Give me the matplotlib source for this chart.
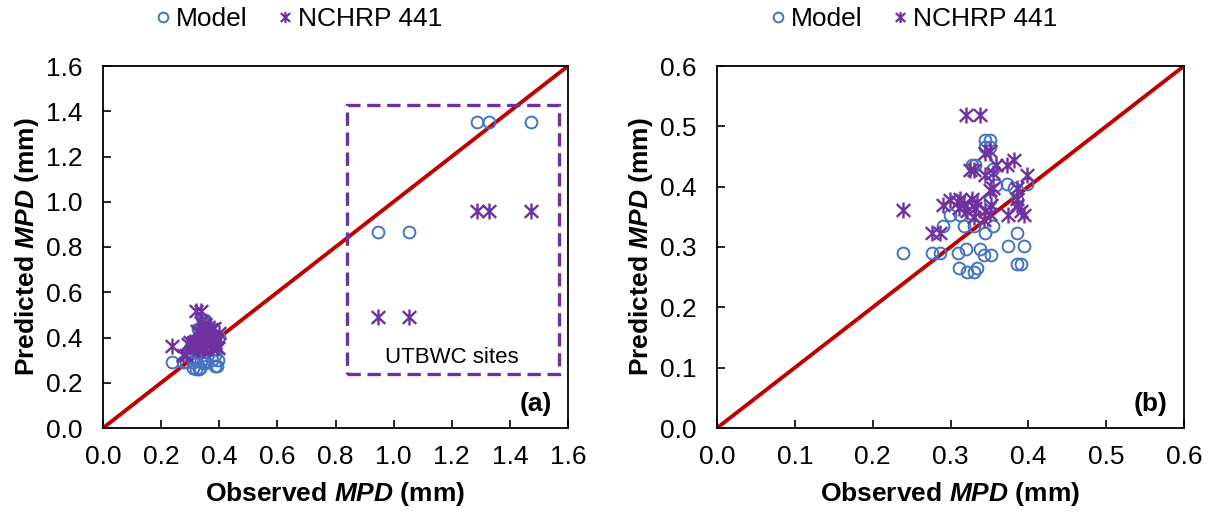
import matplotlib
matplotlib.use("Agg")
import matplotlib.pyplot as plt
import numpy as np
from matplotlib.path import Path
from matplotlib.patches import Rectangle
from matplotlib.lines import Line2D

plt.rcParams["font.family"] = ["Liberation Sans", "DejaVu Sans"]
plt.rcParams["mathtext.fontset"] = "custom"
plt.rcParams["mathtext.rm"] = "Liberation Sans:bold"
plt.rcParams["mathtext.it"] = "Liberation Sans:italic:bold"

# observed MPD (mm) and the two predictions, one entry per site
observed = [0.239, 0.276, 0.287, 0.291, 0.299, 0.309, 0.311, 0.312, 0.317, 0.320,
            0.321, 0.325, 0.327, 0.330, 0.330, 0.332, 0.334, 0.338, 0.343, 0.344,
            0.344, 0.344, 0.351, 0.351, 0.351, 0.352, 0.355, 0.355, 0.359, 0.372,
            0.374, 0.381, 0.385, 0.386, 0.386, 0.391, 0.395, 0.398,
            0.945, 1.054, 1.286, 1.328, 1.472]
model = [0.290, 0.290, 0.290, 0.334, 0.353, 0.290, 0.265, 0.353, 0.334, 0.296,
         0.259, 0.356, 0.436, 0.334, 0.259, 0.436, 0.266, 0.296, 0.287, 0.478,
         0.465, 0.323, 0.478, 0.465, 0.378, 0.287, 0.430, 0.334, 0.403, 0.404,
         0.302, 0.398, 0.272, 0.378, 0.323, 0.272, 0.302, 0.404,
         0.868, 0.868, 1.351, 1.351, 1.351]
nchrp = [0.362, 0.324, 0.324, 0.370, 0.378, 0.375, 0.365, 0.380, 0.372, 0.519,
         0.360, 0.428, 0.380, 0.428, 0.350, 0.365, 0.375, 0.519, 0.345, 0.455,
         0.419, 0.360, 0.459, 0.394, 0.355, 0.370, 0.422, 0.397, 0.436, 0.436,
         0.353, 0.444, 0.397, 0.370, 0.380, 0.360, 0.353, 0.419,
         0.489, 0.489, 0.960, 0.960, 0.960]

blue = "#4472C4"
purple = "#7030A0"
red = "#C00000"

# Excel-style star: an X with a vertical bar
star = Path([(-0.85, -0.8), (0.85, 0.8), (-0.85, 0.8), (0.85, -0.8), (0, -1.0), (0, 1.0)],
            [Path.MOVETO, Path.LINETO, Path.MOVETO, Path.LINETO, Path.MOVETO, Path.LINETO])

fig = plt.figure(figsize=(12.1, 5.13), dpi=100)
W, H = 1210, 513
panels = [
    (fig.add_axes([103 / W, 1 - 428 / H, 465 / W, 362 / H]), 1.6, 0.2, "(a)"),
    (fig.add_axes([717 / W, 1 - 428 / H, 467 / W, 362 / H]), 0.6, 0.1, "(b)"),
]

for ax, lim, step, tag in panels:
    ax.plot([0, lim], [0, lim], color=red, lw=2.8, zorder=1)
    ax.plot(observed, model, ls="none", marker="o", ms=8.5, mfc="none", mec=blue, mew=1.4,
            clip_on=True, zorder=2)
    ax.plot(observed, nchrp, ls="none", marker=star, ms=11.5, mec=purple, mew=1.7,
            clip_on=True, zorder=3)
    ticks = np.round(np.arange(0, lim + step / 2, step), 1)
    ax.set_xlim(0, lim)
    ax.set_ylim(0, lim)
    ax.set_xticks(ticks)
    ax.set_yticks(ticks)
    ax.set_xticklabels([f"{t:.1f}" for t in ticks])
    ax.set_yticklabels([f"{t:.1f}" for t in ticks])
    ax.tick_params(direction="in", length=6, width=1.2, labelsize=19, colors="black",
                   top=False, right=False)
    ax.tick_params(axis="x", pad=12)
    ax.tick_params(axis="y", pad=15)
    for sp in ax.spines.values():
        sp.set_linewidth(1.3)
    ax.set_xlabel(r"Observed $\it{MPD}$ (mm)", fontsize=19, fontweight="bold", labelpad=8)
    ax.set_ylabel(r"Predicted $\it{MPD}$ (mm)", fontsize=19, fontweight="bold", labelpad=3)
    ax.text(0.965, 0.065, tag, transform=ax.transAxes, ha="right", va="center",
            fontsize=19, fontweight="bold")

    handles = [
        Line2D([], [], ls="none", marker="o", ms=7, mfc="none", mec=blue, mew=1.4, label="Model"),
        Line2D([], [], ls="none", marker=star, ms=8, mec=purple, mew=1.6, label="NCHRP 441"),
    ]
    bb = ax.get_position()
    fig.legend(handles=handles, loc="center", ncol=2, frameon=False, fontsize=19,
               bbox_to_anchor=(bb.x0 + bb.width / 2 - 37 / W, 1 - 19 / H),
               handlelength=0.6, handletextpad=0.2, columnspacing=1.1)

# UTBWC sites box in panel (a)
ax_a = panels[0][0]
ax_a.add_patch(Rectangle((0.838, 0.239), 0.732, 1.189, fill=False, ec=purple, lw=2.4,
                         ls=(0, (4, 2)), zorder=4))
ax_a.text(1.20, 0.31, "UTBWC sites", ha="center", va="center", fontsize=16)

fig.savefig("out.png", dpi=100)
